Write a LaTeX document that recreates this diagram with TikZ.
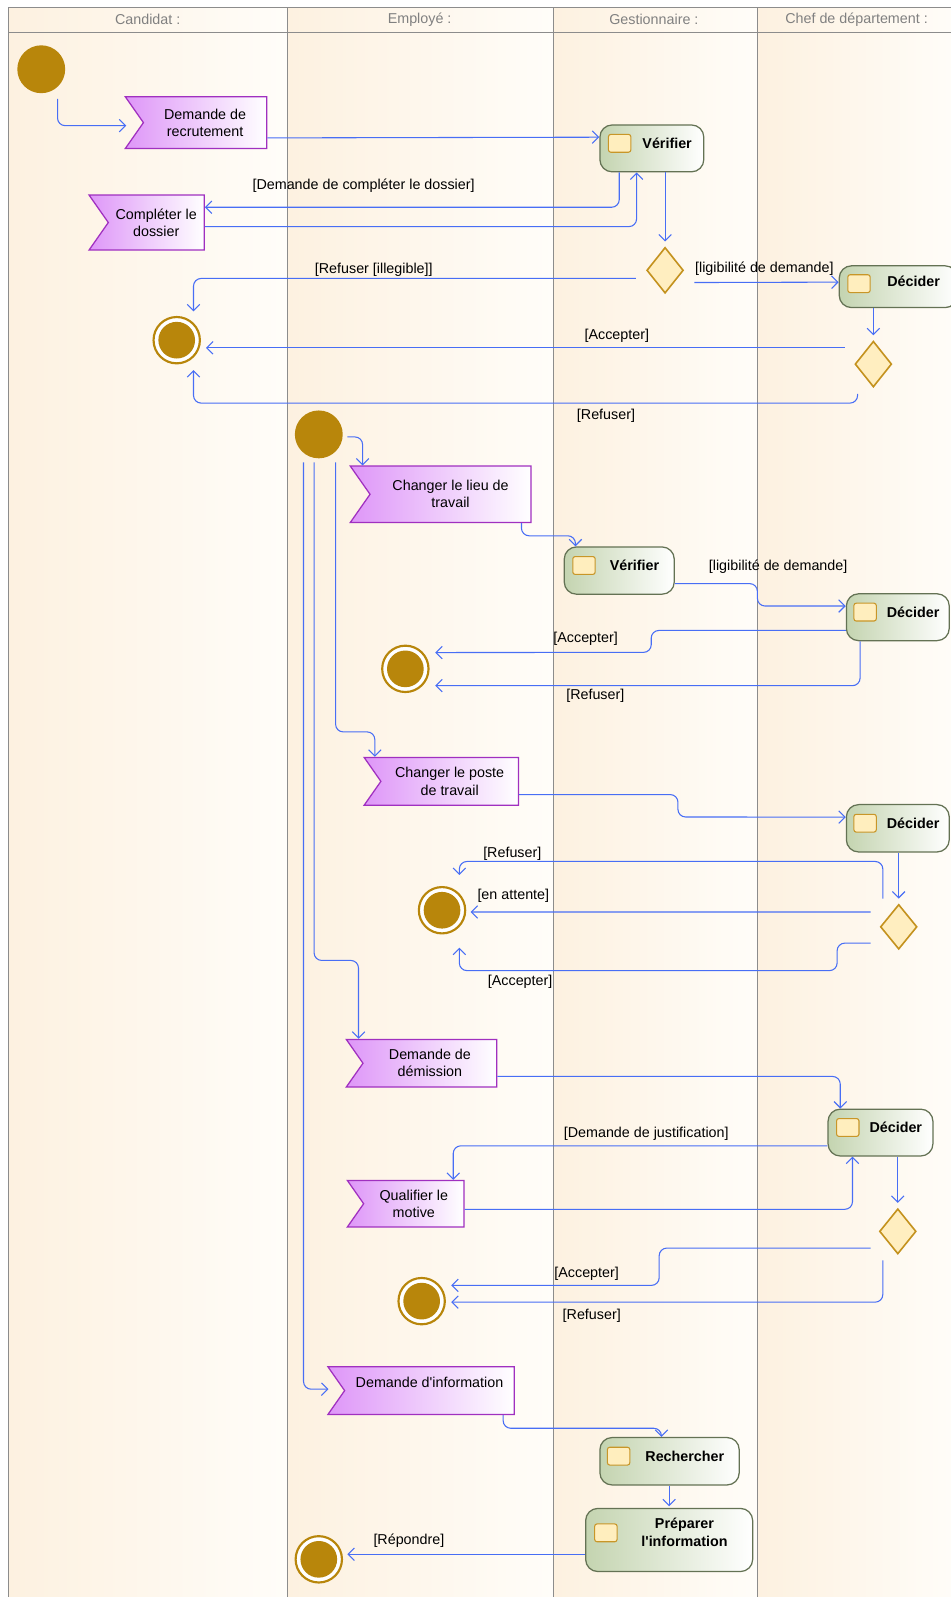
\documentclass[tikz,border=0pt]{standalone}
\usepackage{fontspec}
\setmainfont{Liberation Sans}
\usetikzlibrary{shapes.geometric, shapes.symbols, arrows.meta, calc, positioning}

\definecolor{ini}{RGB}{184,134,11}
\definecolor{laneL}{RGB}{253,241,224}
\definecolor{laneR}{RGB}{255,253,249}
\definecolor{laneB}{RGB}{140,140,140}
\definecolor{headT}{RGB}{128,128,128}
\definecolor{flowc}{RGB}{72,110,245}
\definecolor{sigL}{RGB}{222,150,248}
\definecolor{sigB}{RGB}{160,48,192}
\definecolor{actL}{RGB}{196,212,176}
\definecolor{actB}{RGB}{100,114,84}
\definecolor{icoF}{RGB}{255,238,190}
\definecolor{icoB}{RGB}{200,150,40}
\definecolor{choF}{RGB}{255,238,192}
\definecolor{choB}{RGB}{196,146,30}

\newcommand{\acttxt}[2][0pt]{\raisebox{#1}[0pt][0pt]{\hspace{6mm}\begin{tabular}{@{}c@{}}#2\end{tabular}}}

\tikzset{
  every node/.style={font=\fontsize{8}{9.6}\selectfont},
  sz/.style 2 args={minimum width=#1*0.2mm, minimum height=#2*0.2mm},
  lane/.style={draw=laneB, line width=0.5pt},
  lanehead/.style={text=headT},
  initnode/.style={circle, fill=ini, minimum size=9.4mm, inner sep=0pt},
  finalnode/.style={circle, draw=ini, line width=1.2pt, fill=white, minimum size=9.1mm, inner sep=0pt,
    path picture={\fill[ini] (path picture bounding box.center) circle (3.6mm);}},
  sigbox/.style={signal, signal to=nowhere, signal from=west, signal pointer angle=110,
    draw=sigB, line width=0.7pt, left color=sigL, right color=white, align=center, inner sep=1pt},
  action/.style={rectangle, rounded corners=2.4mm, draw=actB, line width=0.7pt,
    left color=actL, right color=white, font=\fontsize{8}{9.6}\selectfont\bfseries, inner sep=0pt},
  acticon/.style={rectangle, rounded corners=1.3pt, draw=icoB, fill=icoF, line width=0.6pt,
    minimum width=4.4mm, minimum height=3.5mm, inner sep=0pt},
  choice/.style={diamond, draw=choB, fill=choF, line width=0.9pt, inner sep=0pt},
  guard/.style={inner sep=0pt},
  flow/.style={draw=flowc, line width=0.6pt, rounded corners=1.5mm, -{Straight Barb[length=3.5pt,width=7pt]}}
}

\begin{document}
\begin{tikzpicture}[x=0.2mm, y=-0.2mm]
	\fill[white, use as bounding box] (0,0) rectangle (933,1568);
	\foreach \xa/\xb in {8/282, 282/543, 543/744, 744/940}
		\shade[left color=laneL, right color=laneR] (\xa,7) rectangle (\xb,1568);
	\draw[lane] (940,7) -- (8,7) -- (8,1568);
	\draw[lane] (8,32) -- (940,32);
	\foreach \xx in {282,543,744}
		\draw[lane] (\xx,7) -- (\xx,1568);
	\node[lanehead] (hc) at (145,19.5) {Candidat :};
	\node[lanehead] (he) at (412,19.5) {Employé :};
	\node[lanehead] (hg) at (642,19.5) {Gestionnaire :};
	\node[lanehead] (hd) at (841,19.5) {Chef de département :};

	\node[initnode] (i1) at (40.5,68) {};
	\node[sigbox, sz={139}{51}] (dr) at (201.4,120.4) {Demande de\\recrutement};
	\node[action, sz={102}{46}] (v1) at (640,145.7) {\acttxt{Vérifier}};
	\node[acticon] (v1i) at ($(v1.west)+(20,-5)$) {};
	\node[sigbox, sz={113}{54}] (cd) at (153.4,218.5) {Compléter le\\dossier};
	\node[choice, sz={36}{45}] (g1) at (653,265.4) {};
	\node[action, sz={116}{41}] (d1) at (882,281.5) {\acttxt{Décider}};
	\node[acticon] (d1i) at ($(d1.west)+(20,-3)$) {};
	\node[finalnode] (f1) at (173.5,334) {};
	\node[choice, sz={36}{45}] (g2) at (857.5,357.5) {};
	\draw[flow] ($(i1)+(16,29)$) |- ($(dr)+(-77.4,3)$);
	\draw[flow] ($(dr.east)+(0,15)$) -- ($(v1.west)+(0,-11)$);
	\draw[flow] ($(v1.south)+(-32,0)$) |- ($(cd.east)+(0,-15)$);
	\draw[flow] ($(cd.east)+(0,4)$) -| ($(v1.south)+(-15,0)$);
	\draw[flow, shorten >=1mm] (v1.south -| g1) -- (g1.north);
	\draw[flow] ($(g1.west)+(-10,8)$) -| ($(f1.north)+(16.5,-4.5)$);
	\draw[flow] ($(g1.east)+(10,12)$) -- ($(d1.west)+(0,-4.5)$);
	\draw[flow, shorten >=1mm] (d1.south -| g2) -- (g2.north);
	\draw[flow] ($(g2.west)+(-9.5,-16)$) -- ($(f1.east)+(5,7.5)$);
	\draw[flow] ($(g2.south)+(-15.5,6)$) -- ++(0,9) -| ($(f1.south)+(16.5,5.5)$);
	\node[guard] (l1) at (357,182.7) {[Demande de compléter le dossier]};
	\node[guard] (l2) at (367,265.2) {[Refuser [illegible]]};
	\node[guard] (l3) at (750.5,263.5) {[ligibilité de demande]};
	\node[guard] (l4) at (605.6,330) {[Accepter]};
	\node[guard] (l5) at (595,408.6) {[Refuser]};

	\node[initnode] (i2) at (313,426.5) {};
	\node[sigbox, sz={177.5}{55.3}] (cl) at (442.4,485.3) {Changer le lieu de\\travail};
	\node[action, sz={108}{46.4}] (v2) at (608,560.2) {\acttxt{Vérifier}};
	\node[acticon] (v2i) at ($(v2.west)+(20,-5)$) {};
	\node[action, sz={101}{46}] (d2) at (881.5,606) {\acttxt{Décider}};
	\node[acticon] (d2i) at ($(d2.west)+(19,-5)$) {};
	\node[finalnode] (f2) at (398,656.7) {};
	\draw[flow] ($(i2)+(28,2.5)$) -| ($(cl.north)+(-86.4,0)$);
	\draw[flow] ($(cl.south)+(69.6,0)$) -- ++(0,12.5) -| ($(v2.north)+(-43,0)$);
	\draw[flow] ($(v2.east)+(0,12.8)$) -| ++(81,22) -- ($(d2.west)+(0,-11)$);
	\draw[flow] ($(d2.west)+(0,13)$) -| ++(-191,21.5) -- ($(f2.east)+(5.5,-16)$);
	\draw[flow] ($(d2.south)+(-37,0)$) |- ($(f2.east)+(5.5,16.5)$);
	\node[guard] (l6) at (764,556.5) {[ligibilité de demande]};
	\node[guard] (l7) at (575,627.6) {[Accepter]};
	\node[guard] (l8) at (584.5,683.6) {[Refuser]};

	\node[sigbox, sz={151.5}{47}] (cp) at (441.5,767.15) {Changer le poste\\de travail};
	\node[action, sz={101}{46.5}] (d3) at (881.5,813.25) {\acttxt{Décider}};
	\node[acticon] (d3i) at ($(d3.west)+(19,-5)$) {};
	\node[choice, sz={36}{44}] (g3) at (882.4,910) {};
	\node[finalnode] (f3) at (434,893.7) {};
	\draw[flow] ($(i2)+(16.5,27.5)$) -- ++(0,264.6) -| ($(cp.north)+(-73.5,0)$);
	\draw[flow] ($(cp.east)+(0,13)$) -| ++(156,22) -- ($(d3.west)+(0,-11)$);
	\draw[flow, shorten >=1mm] (d3.south -| g3) -- (g3.north);
	\draw[flow] ($(g3.north)+(-15.6,-5)$) -- ++(0,-36.4) -| ($(f3.north)+(17,-10.8)$);
	\draw[flow] ($(g3.west)+(-8.9,-14.6)$) -- ($(f3.east)+(4.2,1.7)$);
	\draw[flow] ($(g3.west)+(-8.9,16)$) -| ++(-32.8,27) -| ($(f3.south)+(17,13)$);
	\node[guard] (l9) at (503,838) {[Refuser]};
	\node[guard] (l10) at (504,879.7) {[en attente]};
	\node[guard] (l11) at (510.7,964.3) {[Accepter]};

	\node[sigbox, sz={147.8}{46.8}] (dm) at (422.1,1043.9) {Demande de\\démission};
	\node[action, sz={103}{46}] (d4) at (864.5,1112) {\acttxt{Décider}};
	\node[acticon] (d4i) at ($(d4.west)+(20,-5)$) {};
	\node[sigbox, sz={114.5}{45.7}] (qm) at (406.3,1181.85) {Qualifier le\\motive};
	\node[choice, sz={36}{44.4}] (g4) at (881.5,1209) {};
	\node[finalnode] (f4) at (414,1277.5) {};
	\draw[flow] ($(i2)+(-4.6,27.5)$) -- ++(0,489) -| ($(dm.north)+(-70.1,0)$);
	\draw[flow] ($(dm.east)+(0,13)$) -| ($(d4.north)+(-39.5,0)$);
	\draw[flow] ($(d4.west)+(0,13)$) -| ($(qm.north)+(38.7,0)$);
	\draw[flow] ($(qm.east)+(0,5.5)$) -| ($(d4.south)+(-27.5,0)$);
	\draw[flow, shorten >=1mm] (d4.south -| g4) -- (g4.north);
	\draw[flow] ($(g4.west)+(-8,16.4)$) -| ++(-207.5,36.6) -- ($(f4.east)+(5.2,-15.5)$);
	\draw[flow] ($(g4.south)+(-14.7,5.6)$) |- ($(f4.east)+(5.2,1)$);
	\node[guard] (l12) at (634.5,1113) {[Demande de justification]};
	\node[guard] (l13) at (576,1251) {[Accepter]};
	\node[guard] (l14) at (581,1291.5) {[Refuser]};

	\node[sigbox, sz={183}{46.7}] (di) at (421.7,1365.35) {Demande d\textquotesingle information\\ \mbox{}};
	\node[action, sz={136.8}{46.6}] (rc) at (657.4,1434.7) {\acttxt{Rechercher}};
	\node[acticon] (rci) at ($(rc.west)+(19,-5)$) {};
	\node[action, sz={164}{62}] (pi) at (657,1512) {\acttxt[1.3pt]{Préparer\\l\textquotesingle information}};
	\node[acticon] (pii) at ($(pi.west)+(20.5,-7)$) {};
	\node[finalnode] (f5) at (313,1531) {};
	\draw[flow] ($(i2)+(-15,27.5)$) |- ($(di)+(-99.2,-1.4)$);
	\draw[flow] ($(di.south)+(72.3,0)$) -- ++(0,13) -| ($(rc.north)+(-8,0)$);
	\draw[flow, shorten >=0.3mm] (rc.south -| pi) -- (pi.north);
	\draw[flow] ($(pi.west)+(0,14)$) -- ($(f5.east)+(4.3,-5)$);
	\node[guard] (l15) at (401.5,1513) {[Répondre]};
\end{tikzpicture}
\end{document}
